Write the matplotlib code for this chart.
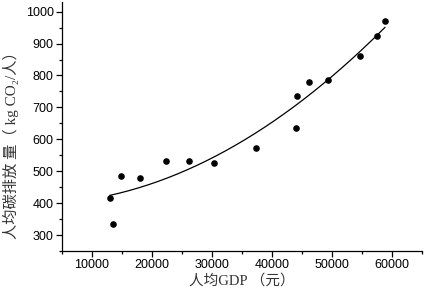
import numpy as np
import matplotlib
matplotlib.use('Agg')
import matplotlib.pyplot as plt
from matplotlib.ticker import MultipleLocator

# per-capita GDP (yuan) and per-capita carbon emission (kg CO2 / person)
gdp = [13000, 13450, 14830, 18050, 22380, 26220, 30280, 37330,
       43950, 44170, 46110, 49280, 54720, 57550, 58830]
co2 = [415, 335, 484, 479, 532, 532, 527, 572,
       635, 737, 780, 787, 862, 925, 971]

xlabel = '人均GDP （元）'
ylabel = '人均碳排放 量（ kg CO₂/人）'

label_font = ['Liberation Serif', 'Noto Sans CJK SC', 'DejaVu Serif']
plt.rcParams['font.family'] = ['Liberation Sans', 'DejaVu Sans']

fig = plt.figure(figsize=(4.24, 2.95), dpi=100)
ax = fig.add_axes([0.146, 0.149, 0.849, 0.844])

# quadratic trend line fitted on the data
coef = np.polyfit(gdp, co2, 2)
xs = np.linspace(min(gdp), max(gdp), 200)
ax.plot(xs, np.polyval(coef, xs), color='black', lw=0.9)
ax.scatter(gdp, co2, s=14, color='black', zorder=3)

ax.set_xlim(5000, 65000)
ax.set_ylim(250, 1030)
ax.xaxis.set_major_locator(MultipleLocator(10000))
ax.xaxis.set_minor_locator(MultipleLocator(5000))
ax.yaxis.set_major_locator(MultipleLocator(100))
ax.yaxis.set_minor_locator(MultipleLocator(50))
ax.set_yticks(range(300, 1001, 100))

for s in ['top', 'right']:
    ax.spines[s].set_visible(False)
for s in ['left', 'bottom']:
    ax.spines[s].set_linewidth(0.9)

ax.tick_params(which='major', direction='out', length=4, width=0.9, labelsize=9, pad=2)
ax.tick_params(which='minor', direction='out', length=2.5, width=0.9)

ax.set_xlabel(xlabel, family=label_font, fontsize=10.5, color='#333333', labelpad=2)
ax.set_ylabel(ylabel, family=label_font, fontsize=11, color='#333333')
ax.yaxis.set_label_coords(-0.118, 0.44)

fig.savefig('out.png', dpi=100)
